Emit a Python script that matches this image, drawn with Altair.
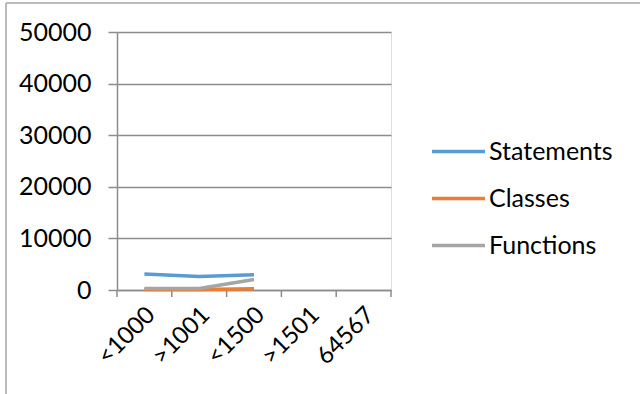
import altair as alt
import pandas as pd

categories = ["<1000", ">1001", "<1500", ">1501", "64567"]
series_names = ["Statements", "Classes", "Functions"]
statements = [3100, 2600, 2950, None, None]
classes = [100, 100, 250, None, None]
functions = [300, 300, 2050, None, None]
colors = ["#5B9BD5", "#ED7D31", "#A5A5A5"]

rows = []
for name, vals in zip(series_names, [statements, classes, functions]):
    for c, v in zip(categories, vals):
        rows.append({"cat": c, "series": name, "value": v})
df = pd.DataFrame(rows)
tick_df = pd.DataFrame({"cat": categories})

FONT = "Lato"
GRID = "#8c8c8c"
x_scale = alt.Scale(type="band", domain=categories, paddingInner=0, paddingOuter=0)

lines = alt.Chart(df).mark_line(strokeWidth=3.5, clip=False).encode(
    x=alt.X("cat:N", scale=x_scale, sort=categories,
            axis=alt.Axis(title=None, ticks=False, labelAngle=-45, labelAlign="right",
                          labelBaseline="middle", labelPadding=21, labelOffset=7,
                          labelFont=FONT, labelFontSize=24, labelColor="#000000",
                          domainColor=GRID, domainWidth=1.5)),
    y=alt.Y("value:Q", scale=alt.Scale(domain=[0, 50000], nice=False),
            axis=alt.Axis(title=None, values=[0, 10000, 20000, 30000, 40000, 50000],
                          format="d",
                          grid=True, gridColor=GRID, gridWidth=1.5, tickColor=GRID,
                          tickSize=9, tickWidth=1.5, domainColor=GRID, domainWidth=1.5,
                          labelFont=FONT, labelFontSize=25, labelColor="#000000",
                          labelPadding=17)),
    color=alt.Color("series:N", sort=series_names,
                    scale=alt.Scale(domain=series_names, range=colors),
                    legend=alt.Legend(title=None, orient="none", legendX=313, legendY=91,
                                      symbolType="stroke", symbolSize=2809,
                                      symbolStrokeWidth=3.5, labelFont=FONT,
                                      labelFontSize=25, labelColor="#000000",
                                      labelOffset=2, rowPadding=5)),
)

ticks0 = alt.Chart(tick_df).mark_rule(color=GRID, strokeWidth=1.5).encode(
    x=alt.X("cat:N", scale=x_scale, bandPosition=0),
    y=alt.value(258), y2=alt.value(265),
)
ticks_end = alt.Chart(tick_df).transform_filter(
    alt.datum.cat == categories[-1]
).mark_rule(color=GRID, strokeWidth=1.5).encode(
    x=alt.X("cat:N", scale=x_scale, bandPosition=1),
    y=alt.value(258), y2=alt.value(265),
)

border_top = alt.Chart(tick_df).transform_filter(alt.datum.cat == categories[0]).mark_rule(
    color="#a6a6a6", strokeWidth=1.5, clip=False
).encode(x=alt.value(-111), x2=alt.value(530), y=alt.value(-29))
border_left = alt.Chart(tick_df).transform_filter(alt.datum.cat == categories[0]).mark_rule(
    color="#a6a6a6", strokeWidth=1.5, clip=False
).encode(x=alt.value(-111), y=alt.value(-29), y2=alt.value(370))

chart = alt.layer(border_top, border_left, ticks0, ticks_end, lines).properties(
    width=274, height=258,
    autosize=alt.AutoSizeParams(type="none"),
    padding={"left": 117, "top": 32, "right": 249, "bottom": 104},
).configure_view(stroke=None).configure(background="white")

chart.save("out.html", embed_options={"renderer": "svg", "actions": False})
